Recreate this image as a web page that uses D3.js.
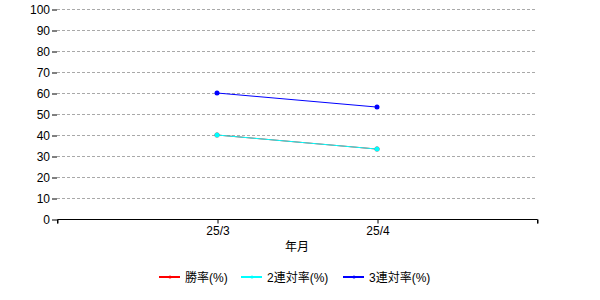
<!DOCTYPE html>
<html><head><meta charset="utf-8">
<script src="https://cdn.jsdelivr.net/npm/d3@7"></script>
<style>body{margin:0;background:#fff}svg{display:block}text{font-family:"Liberation Sans",Arial,"Noto Sans CJK JP",sans-serif;font-size:12px;fill:#000}</style>
</head><body><svg id="c" width="600" height="300"></svg>
<script>
const categories = ["25/3", "25/4"];
const winRate = [40, 33.3];
const top2Rate = [40, 33.3];
const top3Rate = [60, 53.3];
const yTicks = [0,10,20,30,40,50,60,70,80,90,100];
const seriesNames = ["勝率(%)", "2連対率(%)", "3連対率(%)"];
const seriesColors = ["#ff0000", "#00ffff", "#0000ff"];

(function () {
const svg = d3.select("#c");
const mL = 57, mR = 537, mT = 9, mB = 219;
const x = d3.scaleLinear().domain([0, categories.length + 1]).range([mL, mR]);
const y = d3.scaleLinear().domain([0, 100]).range([mB, mT]);

// grid
svg.append("g").selectAll("line").data(yTicks.filter(d => d > 0)).join("line")
  .attr("x1", mL).attr("x2", mR)
  .attr("y1", d => y(d) + 0.5).attr("y2", d => y(d) + 0.5)
  .attr("stroke", "#a9a9a9").attr("stroke-dasharray", "3,2").attr("stroke-width", 1);

// y axis (no vertical line)
const ya = svg.append("g").attr("transform", `translate(${mL},0.5)`)
  .call(d3.axisLeft(y).tickValues(yTicks).tickSize(5).tickPadding(2));
ya.select(".domain").remove();
ya.selectAll("text").style("font-size", "12px");

// x axis
const xa = svg.append("g").attr("transform", `translate(0.5,${mB + 0.5})`)
  .call(d3.axisBottom(x).tickValues([0, 1, 2, 3]).tickSize(4).tickPadding(3)
    .tickFormat(d => (d >= 1 && d <= categories.length) ? categories[d - 1] : ""));
xa.select(".domain").attr("stroke", "#000").attr("d", `M${mL},4V0H${mR}V4`);
xa.selectAll("text").style("font-size", "12px");

svg.append("text").attr("x", (mL + mR) / 2).attr("y", 251).attr("text-anchor", "middle").text("年月");

const series = [winRate, top2Rate, top3Rate];
const line = d3.line().x((d, i) => x(i + 1)).y(d => y(d));
series.forEach((s, k) => {
  svg.append("path").datum(s).attr("d", line).attr("fill", "none")
    .attr("stroke", seriesColors[k]).attr("stroke-width", 1);
  svg.append("g").selectAll("circle").data(s).join("circle")
    .attr("cx", (d, i) => x(i + 1)).attr("cy", d => y(d)).attr("r", 2.5)
    .attr("fill", seriesColors[k]);
});

// legend
const lx = [159, 241, 343];
seriesNames.forEach((n, k) => {
  const g = svg.append("g").attr("transform", `translate(${lx[k]},277)`);
  g.append("line").attr("x1", 0).attr("x2", 21).attr("y1", 0).attr("y2", 0)
    .attr("stroke", seriesColors[k]).attr("stroke-width", 2);
  g.append("circle").attr("cx", 11).attr("cy", 0).attr("r", 1.5).attr("fill", seriesColors[k]);
  g.append("text").attr("x", 26).attr("y", 4.5).text(n);
});
})();
</script></body></html>
